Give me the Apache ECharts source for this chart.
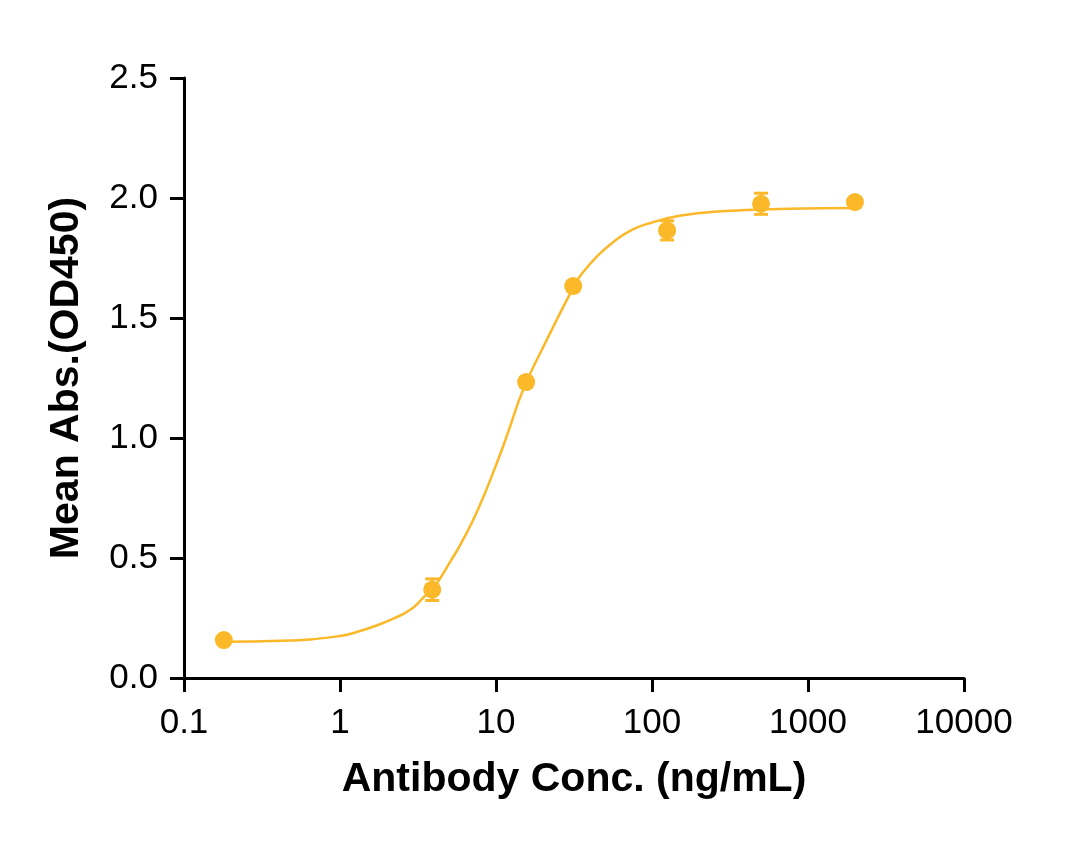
<!DOCTYPE html>
<html>
<head>
<meta charset="utf-8">
<script src="https://cdn.jsdelivr.net/npm/echarts@6/dist/echarts.min.js"></script>
<style>
  html, body { margin: 0; padding: 0; background: #fff; }
  #chart { width: 1090px; height: 843px; }
</style>
</head>
<body>
<div id="chart"></div>
<script>
// measured points (ng/mL, mean OD450, error)
var conc = [0.18, 3.9, 15.6, 31.25, 125, 500, 2000];
var meanAbs = [0.158, 0.368, 1.233, 1.633, 1.865, 1.976, 1.983];
var errAbs = [0.01, 0.045, 0.02, 0.02, 0.04, 0.044, 0.015];

// fitted curve
var curveX = [0.18, 0.42, 1.0, 1.36, 1.75, 2.23, 2.85, 3.47, 4.0, 5.15, 5.97, 7.64, 10.3, 11.9, 14.9, 19.9, 31.6, 35, 44.9, 57.4, 73.3, 94, 153, 277, 745, 1970];
var curveY = [0.151, 0.155, 0.175, 0.197, 0.221, 0.249, 0.286, 0.339, 0.378, 0.49, 0.561, 0.70, 0.908, 1.02, 1.2, 1.374, 1.633, 1.679, 1.76, 1.82, 1.865, 1.893, 1.927, 1.945, 1.955, 1.958];

var xTickLabels = { "0.1": "0.1", "1": "1", "10": "10", "100": "100", "1000": "1000", "10000": "10000" };

var color = "#FBB829";
var font = "'Liberation Sans', Arial, sans-serif";

var chart = echarts.init(document.getElementById("chart"), null, { renderer: "canvas" });

var points = conc.map(function (c, i) { return [c, meanAbs[i]]; });
var errData = conc.map(function (c, i) { return [c, meanAbs[i] - errAbs[i], meanAbs[i] + errAbs[i]]; });
var curve = curveX.map(function (c, i) { return [c, curveY[i]]; });

chart.setOption({
  animation: false,
  grid: { left: 184, right: 126, top: 78, bottom: 165 },
  xAxis: {
    type: "log",
    logBase: 10,
    min: 0.1,
    max: 10000,
    name: "Antibody Conc. (ng/mL)",
    nameLocation: "middle",
    nameGap: 81,
    nameTextStyle: { fontFamily: font, fontSize: 41, fontWeight: "bold", color: "#000" },
    axisLine: { lineStyle: { color: "#000", width: 3 } },
    axisTick: { length: 14, lineStyle: { color: "#000", width: 3 } },
    minorTick: { show: false },
    splitLine: { show: false },
    axisLabel: {
      margin: 28,
      fontFamily: font,
      fontSize: 35,
      color: "#000",
      formatter: function (v) {
        var k = String(+v.toPrecision(6));
        return xTickLabels[k] !== undefined ? xTickLabels[k] : "";
      }
    }
  },
  yAxis: {
    type: "value",
    min: 0,
    max: 2.5,
    interval: 0.5,
    name: "Mean Abs.(OD450)",
    nameLocation: "middle",
    nameGap: 97,
    nameTextStyle: { fontFamily: font, fontSize: 41, fontWeight: "bold", color: "#000" },
    axisLine: { show: true, lineStyle: { color: "#000", width: 3 } },
    axisTick: { show: true, length: 14, lineStyle: { color: "#000", width: 3 } },
    splitLine: { show: false },
    axisLabel: {
      margin: 26,
      fontFamily: font,
      fontSize: 35,
      color: "#000",
      formatter: function (v) { return v.toFixed(1); }
    }
  },
  series: [
    {
      type: "line",
      data: curve,
      smooth: 0.5,
      showSymbol: false,
      lineStyle: { color: color, width: 2.5 },
      z: 2
    },
    {
      type: "custom",
      data: errData,
      z: 3,
      renderItem: function (params, api) {
        var x = api.value(0);
        var lo = api.coord([x, api.value(1)]);
        var hi = api.coord([x, api.value(2)]);
        var hw = 7;
        var st = { stroke: color, lineWidth: 3 };
        return {
          type: "group",
          children: [
            { type: "line", shape: { x1: lo[0], y1: lo[1], x2: hi[0], y2: hi[1] }, style: st },
            { type: "line", shape: { x1: lo[0] - hw, y1: lo[1], x2: lo[0] + hw, y2: lo[1] }, style: st },
            { type: "line", shape: { x1: hi[0] - hw, y1: hi[1], x2: hi[0] + hw, y2: hi[1] }, style: st }
          ]
        };
      }
    },
    {
      type: "scatter",
      data: points,
      symbol: "circle",
      symbolSize: 18,
      itemStyle: { color: color, opacity: 1 },
      z: 4
    }
  ]
});
</script>
</body>
</html>
